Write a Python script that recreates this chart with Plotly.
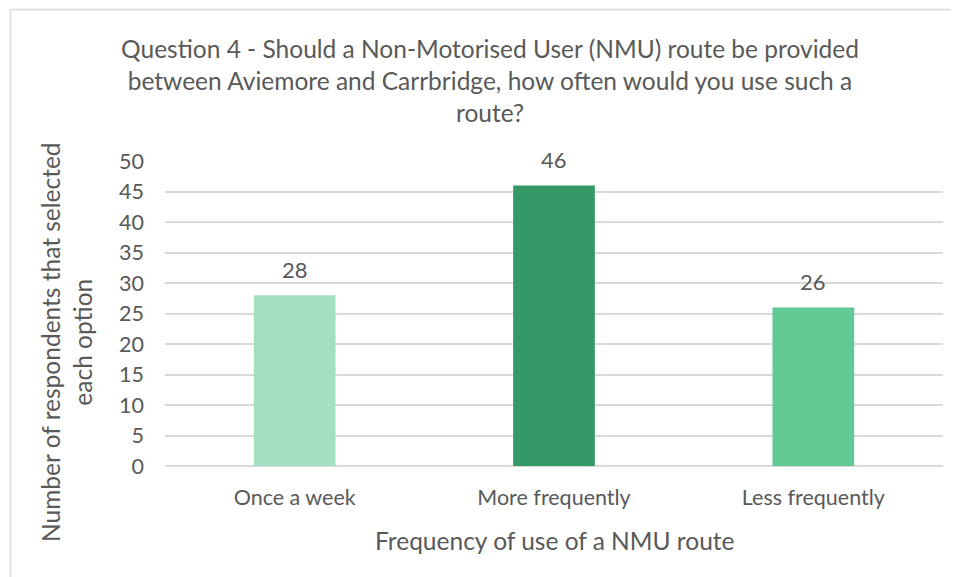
import plotly.graph_objects as go

categories = ["Once a week", "More frequently", "Less frequently"]
values = [28, 46, 26]
bar_colors = ["#A3DFC1", "#359967", "#62C994"]
y_ticks = [0, 5, 10, 15, 20, 25, 30, 35, 40, 45, 50]

title_text = ("Question 4 - Should a Non-Motorised User (NMU) route be provided<br>"
              "between Aviemore and Carrbridge, how often would you use such a<br>route?")
x_title = "Frequency of use of a NMU route"
y_title = "Number of respondents that selected<br>each option"

FONT = "Lato, 'Open Sans', sans-serif"
GREY = "#595959"

# page has an 8px body margin; figure coordinates are page coordinates minus 8
OFF = 8
W, H = 959 - OFF, 577 - OFF
L, T = 165 - OFF, 161 - OFF
R = W - (943 - OFF)
B = H - (466 - OFF)
pw, ph = W - L - R, H - T - B


def px(x):
    return (x - OFF - L) / pw


def py(y):
    return (H - B - (y - OFF)) / ph


fig = go.Figure(go.Bar(
    x=categories, y=values,
    marker=dict(color=bar_colors, line=dict(width=0)),
    width=0.315,
    hoverinfo="x+y",
))

annotations = [dict(x=c, y=v, xref="x", yref="y", text=str(v), showarrow=False,
                    yanchor="bottom", yshift=10,
                    font=dict(family=FONT, size=22, color=GREY))
               for c, v in zip(categories, values)]
annotations.append(dict(text=y_title, textangle=-90, xref="paper", yref="paper",
                        x=px(66), y=py(342), xanchor="center", yanchor="middle",
                        showarrow=False, align="center",
                        font=dict(family=FONT, size=24.5, color=GREY)))
annotations.append(dict(text=x_title, xref="paper", yref="paper",
                        x=px(555), y=py(540), xanchor="center", yanchor="middle",
                        showarrow=False, font=dict(family=FONT, size=24.5, color=GREY)))

fig.update_layout(
    width=W, height=H,
    margin=dict(l=L, r=R, t=T, b=B, autoexpand=False),
    paper_bgcolor="white", plot_bgcolor="white",
    showlegend=False,
    font=dict(family=FONT, color=GREY),
    title=dict(text=title_text, x=(490 - OFF) / W, xanchor="center", xref="container",
               y=1 - 50 / H, yanchor="middle", yref="container",
               font=dict(family=FONT, size=24.5, color=GREY)),
    xaxis=dict(showgrid=False, showline=False, ticks="", ticklabelstandoff=16,
               tickfont=dict(family=FONT, size=21.5, color=GREY)),
    yaxis=dict(range=[0, 50], tickvals=y_ticks, showgrid=True, gridcolor="#D9D9D9", gridwidth=1.5,
               zeroline=True, zerolinecolor="#D9D9D9", zerolinewidth=1.5,
               showline=False, ticks="", ticklabelstandoff=20,
               tickfont=dict(family=FONT, size=21.5, color=GREY)),
    annotations=annotations,
    shapes=[
        dict(type="line", xref="paper", yref="paper", x0=px(10.5), x1=px(959),
             y0=py(9.5), y1=py(9.5), line=dict(color="#D9D9D9", width=1.5)),
        dict(type="line", xref="paper", yref="paper", x0=px(10.5), x1=px(10.5),
             y0=py(9.5), y1=py(577), line=dict(color="#D9D9D9", width=1.5)),
    ],
)

fig.write_html("out.html")
